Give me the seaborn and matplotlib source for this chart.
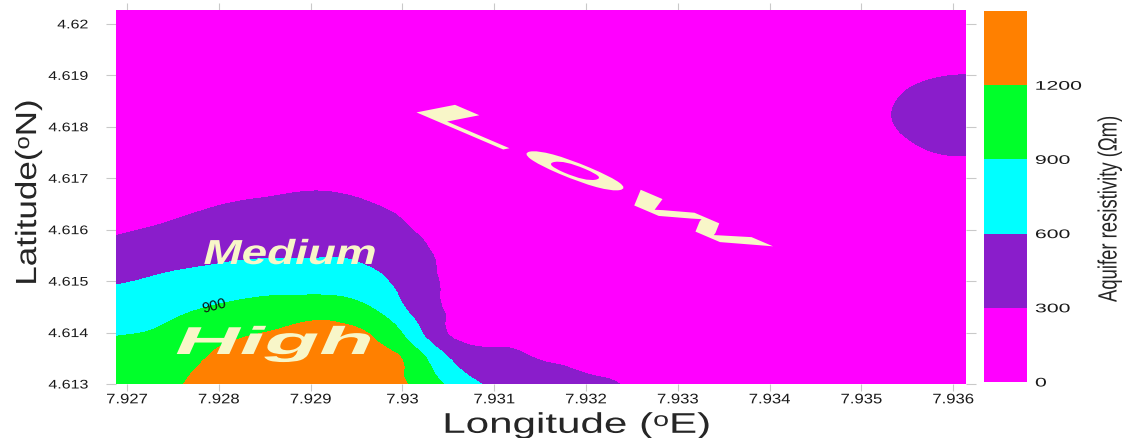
import numpy as np
import matplotlib
matplotlib.use("Agg")
import matplotlib.pyplot as plt
import matplotlib.tri as mtri
from matplotlib.cm import ScalarMappable
from matplotlib.colors import ListedColormap, BoundaryNorm
from matplotlib.patheffects import AbstractPathEffect
from matplotlib.transforms import Affine2D
import seaborn as sns

# Resistivity classes (Ωm) and their fill colours
LEVELS = [0, 300, 600, 900, 1200, 1500]
BAND_COLORS = ["#FF00FF", "#8A1DCB", "#00FFFF", "#00FF2A", "#FF8000"]
CBAR_TICKS = [0, 300, 600, 900, 1200]

LON_TICKS = [7.927, 7.928, 7.929, 7.930, 7.931, 7.932, 7.933, 7.934, 7.935, 7.936]
LON_LABELS = ["7.927", "7.928", "7.929", "7.93", "7.931", "7.932", "7.933", "7.934", "7.935", "7.936"]
LAT_TICKS = [4.613, 4.614, 4.615, 4.616, 4.617, 4.618, 4.619, 4.620]
LAT_LABELS = ["4.613", "4.614", "4.615", "4.616", "4.617", "4.618", "4.619", "4.62"]

# Gridded aquifer resistivity (Ωm): columns follow LON_GRID, rows follow LAT_GRID
LON_GRID = [7.9265, 7.9270, 7.9275, 7.9280, 7.9285, 7.9290, 7.9295, 7.9300, 7.9305, 7.9310, 7.9315,
            7.9320, 7.9325, 7.9330, 7.9335, 7.9340, 7.9345, 7.9350, 7.9355, 7.9360, 7.9365]
LAT_GRID = [4.61300, 4.61325, 4.61350, 4.61375, 4.61400, 4.61425, 4.61450, 4.61475, 4.61500,
            4.61525, 4.61550, 4.61575, 4.61600, 4.61625, 4.61650, 4.61675, 4.61700,
            4.6175, 4.6180, 4.6185, 4.6190, 4.6195, 4.6200, 4.6205]
RESISTIVITY = [
    [1000, 1050, 1150, 1380, 1420, 1430, 1400, 1230, 850, 550, 450, 370, 270, 200, 150, 150, 150, 150, 150, 150, 150],
    [970, 1010, 1100, 1320, 1370, 1380, 1360, 1210, 730, 460, 370, 290, 230, 170, 150, 150, 150, 150, 150, 150, 150],
    [940, 970, 1050, 1250, 1310, 1340, 1310, 1190, 610, 370, 290, 250, 180, 150, 150, 150, 150, 150, 150, 150, 150],
    [900, 930, 1000, 1190, 1260, 1290, 1270, 1040, 430, 290, 250, 200, 150, 150, 150, 150, 150, 150, 150, 150, 150],
    [840, 890, 950, 1100, 1200, 1240, 1230, 890, 290, 260, 220, 160, 150, 150, 150, 150, 150, 150, 150, 150, 150],
    [770, 810, 900, 1010, 1090, 1190, 1130, 750, 280, 230, 180, 150, 150, 150, 150, 150, 150, 150, 150, 150, 150],
    [700, 740, 820, 920, 980, 1040, 970, 620, 270, 190, 150, 150, 150, 150, 150, 150, 150, 150, 150, 150, 150],
    [630, 670, 740, 820, 880, 890, 840, 560, 260, 160, 150, 150, 150, 150, 150, 150, 150, 150, 150, 150, 150],
    [550, 590, 660, 720, 770, 780, 740, 510, 260, 150, 150, 150, 150, 150, 150, 150, 150, 150, 150, 150, 150],
    [460, 520, 580, 630, 670, 680, 640, 470, 250, 150, 150, 150, 150, 150, 150, 150, 150, 150, 150, 150, 150],
    [380, 440, 500, 550, 580, 580, 570, 420, 250, 150, 150, 150, 150, 150, 150, 150, 150, 150, 150, 150, 150],
    [290, 360, 430, 490, 520, 530, 510, 380, 230, 150, 150, 150, 150, 150, 150, 150, 150, 150, 150, 150, 150],
    [200, 280, 350, 420, 460, 470, 450, 330, 210, 150, 150, 150, 150, 150, 150, 150, 150, 150, 150, 150, 150],
    [150, 200, 280, 360, 390, 410, 390, 290, 180, 150, 150, 150, 150, 150, 150, 150, 150, 150, 150, 150, 150],
    [150, 150, 200, 290, 330, 350, 330, 240, 160, 150, 150, 150, 150, 150, 150, 150, 150, 150, 150, 150, 150],
    [150, 150, 150, 220, 270, 300, 270, 190, 150, 150, 150, 150, 150, 150, 150, 150, 150, 150, 170, 190, 190],
    [150, 150, 150, 160, 210, 240, 210, 150, 150, 150, 150, 150, 150, 150, 150, 150, 150, 160, 210, 230, 220],
    [150, 150, 150, 150, 150, 150, 150, 150, 150, 150, 150, 150, 150, 150, 150, 150, 150, 210, 270, 310, 290],
    [150, 150, 150, 150, 150, 150, 150, 150, 150, 150, 150, 150, 150, 150, 150, 150, 170, 240, 320, 380, 350],
    [150, 150, 150, 150, 150, 150, 150, 150, 150, 150, 150, 150, 150, 150, 150, 150, 170, 240, 320, 380, 350],
    [150, 150, 150, 150, 150, 150, 150, 150, 150, 150, 150, 150, 150, 150, 150, 150, 150, 210, 270, 300, 290],
    [150, 150, 150, 150, 150, 150, 150, 150, 150, 150, 150, 150, 150, 150, 150, 150, 150, 160, 210, 230, 220],
    [150, 150, 150, 150, 150, 150, 150, 150, 150, 150, 150, 150, 150, 150, 150, 150, 150, 150, 150, 150, 150],
    [150, 150, 150, 150, 150, 150, 150, 150, 150, 150, 150, 150, 150, 150, 150, 150, 150, 150, 150, 150, 150],
]

ZONE_NAMES = ["Low", "Medium", "High"]
CONTOUR_LABEL_LEVEL = 900


class Stretch(AbstractPathEffect):
    """Apply a linear map to glyph outlines about an anchor point of their extents."""

    def __init__(self, a=1.0, b=0.0, c=0.0, d=1.0, anchor=(0.5, 0.5)):
        super().__init__()
        self._lin = Affine2D.from_values(a, b, c, d, 0, 0)
        self._anchor = anchor

    def draw_path(self, renderer, gc, tpath, affine, rgbFace=None):
        box = tpath.get_extents(affine)
        cx = box.x0 + self._anchor[0] * box.width
        cy = box.y0 + self._anchor[1] * box.height
        warp = Affine2D().translate(-cx, -cy) + self._lin + Affine2D().translate(cx, cy)
        renderer.draw_path(gc, tpath, affine + warp, rgbFace)


sns.set_theme(style="white")
plt.rcParams["font.family"] = ["Liberation Sans", "DejaVu Sans"]

fig = plt.figure(figsize=(11.27, 4.39), dpi=100)
ax = fig.add_axes([116 / 1127, 54 / 439, 850 / 1127, 374 / 439])
cax = fig.add_axes([984 / 1127, 56 / 439, 43 / 1127, 371 / 439])

# Regular grid -> triangulation, smoothed with matplotlib's cubic refiner
lon = np.asarray(LON_GRID)
lat = np.asarray(LAT_GRID)
z = np.asarray(RESISTIVITY, dtype=float)
nx, ny = len(lon), len(lat)
gx, gy = np.meshgrid(lon, lat)
tris = []
for j in range(ny - 1):
    for i in range(nx - 1):
        n0 = j * nx + i
        tris.append([n0, n0 + 1, n0 + nx + 1])
        tris.append([n0, n0 + nx + 1, n0 + nx])
tri = mtri.Triangulation(gx.ravel(), gy.ravel(), np.array(tris))
tri_f, z_f = mtri.UniformTriRefiner(tri).refine_field(z.ravel(), subdiv=3)

ax.tricontourf(tri_f, z_f, levels=LEVELS,
               colors=[BAND_COLORS[0]] + BAND_COLORS + [BAND_COLORS[-1]], extend="both")
line900 = ax.tricontour(tri_f, z_f, levels=[CONTOUR_LABEL_LEVEL], linewidths=0)
ax.clabel(line900, levels=[CONTOUR_LABEL_LEVEL], fmt="%d", manual=[(7.92794, 4.61457)],
          inline=False, fontsize=10.5, colors="#111111")

ax.set_xlim(7.92688, 7.93614)
ax.set_ylim(4.613, 4.62027)
ax.set_xticks(LON_TICKS, LON_LABELS)
ax.set_yticks(LAT_TICKS, LAT_LABELS)
for s in ax.spines.values():
    s.set_visible(False)
ax.tick_params(which="major", direction="out", length=7, width=0.8, color="#c9c9c9",
               labelcolor="#1a1a1a", top=True, right=True, bottom=True, left=True)
ax.tick_params(axis="x", labelsize=10, pad=1, length=5)
ax.tick_params(axis="y", labelsize=9, pad=13)
for lbl in ax.get_xticklabels():
    lbl.set_path_effects([Stretch(a=1.2)])
for lbl in ax.get_yticklabels():
    lbl.set_path_effects([Stretch(a=1.28, anchor=(1, 0.5))])

ax.set_xlabel("Longitude (ᵒE)", fontsize=20.5)
ax.xaxis.set_label_coords(0.5424, -0.077)
ax.xaxis.label.set_path_effects([Stretch(a=1.48)])
ax.set_ylabel("Latitude(ᵒN)", fontsize=21)
ax.yaxis.set_label_coords(-0.087, 0.512)
ax.yaxis.label.set_path_effects([Stretch(d=1.2)])

CREAM = "#F8F6C8"
ax.text(7.93212, 4.61690, ZONE_NAMES[0], fontsize=40, fontweight="bold", color=CREAM,
        ha="center", va="center", path_effects=[Stretch(3.042, -1.300, 1.008, 0.198)])
ax.text(7.928776, 4.615333, ZONE_NAMES[1], fontsize=25, fontweight="bold", fontstyle="italic",
        color=CREAM, ha="center", va="baseline", path_effects=[Stretch(a=1.32)])
ax.text(7.928600, 4.613583, ZONE_NAMES[2], fontsize=28, fontweight="bold", fontstyle="italic",
        color=CREAM, ha="center", va="baseline", path_effects=[Stretch(a=2.3)])

sm = ScalarMappable(norm=BoundaryNorm(LEVELS, len(BAND_COLORS)), cmap=ListedColormap(BAND_COLORS))
cb = fig.colorbar(sm, cax=cax)
cb.set_ticks(CBAR_TICKS, labels=[str(t) for t in CBAR_TICKS])
cb.minorticks_off()
cb.outline.set_visible(False)
cax.tick_params(which="both", length=0, pad=6, labelsize=9, labelcolor="#1a1a1a")
for lbl in cax.get_yticklabels():
    lbl.set_path_effects([Stretch(a=1.7, anchor=(0, 0.5))])
cb.set_label("Aquifer resistivity (Ωm)", fontsize=19)
cax.yaxis.set_label_coords(2.64, 0.468)
cax.yaxis.label.set_path_effects([Stretch(d=0.7)])

fig.savefig("out.png", dpi=100)
